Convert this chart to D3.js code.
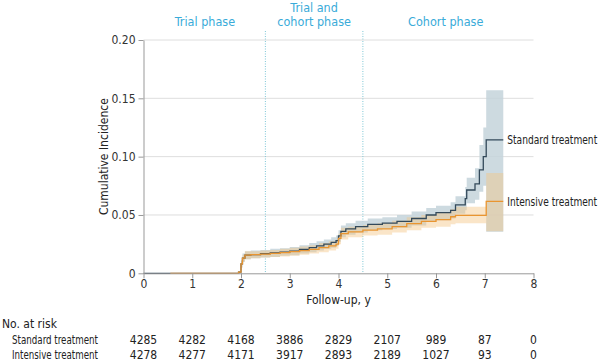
<!DOCTYPE html>
<html><head><meta charset="utf-8">
<script src="https://cdn.jsdelivr.net/npm/d3@7"></script>
<style>
body{margin:0;background:#fff;}
text{font-family:"DejaVu Sans Condensed","Liberation Sans Narrow",sans-serif;}
</style></head>
<body><svg id="c" width="604" height="364"></svg>
<script>
// ---- data ----
const seriesNames = ["Standard treatment", "Intensive treatment"];
// [time, estimate, lower CI, upper CI] (step after)
const standardCurve = [
 [0,0,0,0],[1.95,0.001,0,0.002],[2.0,0.008,0.005,0.011],[2.03,0.013,0.010,0.017],
 [2.08,0.0155,0.012,0.019],[2.2,0.016,0.013,0.0195],[2.4,0.0168,0.0135,0.020],
 [2.6,0.0175,0.014,0.021],[2.8,0.0182,0.015,0.0215],[3.0,0.019,0.0155,0.0225],
 [3.2,0.0205,0.017,0.024],[3.4,0.022,0.018,0.026],[3.55,0.0235,0.0195,0.0275],
 [3.7,0.025,0.021,0.029],[3.85,0.0265,0.022,0.031],[3.95,0.028,0.0235,0.0325],
 [4.0,0.032,0.027,0.037],[4.05,0.036,0.031,0.041],[4.15,0.038,0.033,0.043],
 [4.35,0.040,0.035,0.045],[4.6,0.042,0.037,0.047],[4.9,0.043,0.038,0.048],
 [5.2,0.0445,0.039,0.050],[5.5,0.047,0.041,0.053],[5.8,0.050,0.044,0.056],
 [6.0,0.052,0.0455,0.058],[6.3,0.054,0.047,0.061],[6.4,0.0586,0.051,0.066],
 [6.6,0.064,0.054,0.074],[6.63,0.0714,0.060,0.082],[6.8,0.0766,0.063,0.090],
 [6.89,0.0886,0.070,0.110],[6.97,0.100,0.075,0.125],[7.03,0.1143,0.0357,0.157],
 [7.38,0.1143,0.0357,0.157]
];
const intensiveCurve = [
 [0.55,0,0,0],[1.95,0.001,0,0.002],[2.0,0.008,0.005,0.011],[2.03,0.013,0.010,0.016],
 [2.08,0.0155,0.012,0.019],[2.2,0.016,0.013,0.019],[2.4,0.0165,0.0135,0.0195],
 [2.6,0.017,0.014,0.020],[2.8,0.0178,0.0145,0.021],[3.0,0.0185,0.015,0.022],
 [3.2,0.0195,0.016,0.023],[3.4,0.0205,0.017,0.024],[3.6,0.022,0.018,0.026],
 [3.8,0.0235,0.0195,0.0275],[3.95,0.025,0.021,0.029],[4.0,0.030,0.025,0.034],
 [4.05,0.034,0.029,0.039],[4.2,0.0355,0.031,0.040],[4.5,0.037,0.0325,0.0415],
 [4.8,0.038,0.033,0.043],[5.1,0.040,0.035,0.045],[5.4,0.0425,0.037,0.048],
 [5.7,0.0445,0.039,0.050],[6.0,0.046,0.040,0.052],[6.3,0.0485,0.042,0.055],
 [6.4,0.0497,0.043,0.057],[7.03,0.0617,0.036,0.086],[7.38,0.0617,0.036,0.086]
];
const xTicks = [0,1,2,3,4,5,6,7,8];
const yTicks = [0,0.05,0.10,0.15,0.20];
const yTickLabels = ["0","0.05","0.10","0.15","0.20"];
const phaseBoundaries = [2.5, 4.5];
const phaseLabels = [["Trial phase"],["Trial and","cohort phase"],["Cohort phase"]];
const phaseCenters = [1.26, 3.5, 6.2];
const riskTimes = [0,1,2,3,4,5,6,7,8];
const riskStandard = [4285,4282,4168,3886,2829,2107,989,87,0];
const riskIntensive = [4278,4277,4171,3917,2893,2189,1027,93,0];

// ---- layout ----
const svg = d3.select("#c");
const x = d3.scaleLinear().domain([0,8]).range([143.5,533.5]);
const y = d3.scaleLinear().domain([0,0.20]).range([273.3,40]);
const colStd = "#33495a", colInt = "#e99530";
const FS = 12;

// gridlines
svg.append("g").selectAll("line").data(yTicks.slice(1)).join("line")
  .attr("x1",x(0)).attr("x2",x(8)).attr("y1",d=>y(d)).attr("y2",d=>y(d))
  .attr("stroke","#dedede").attr("stroke-width",1);

// phase boundaries
svg.append("g").selectAll("line").data(phaseBoundaries).join("line")
  .attr("x1",d=>x(d)).attr("x2",d=>x(d)).attr("y1",31).attr("y2",y(0))
  .attr("stroke","#7fc7d6").attr("stroke-width",1).attr("stroke-dasharray","1,1.5");

// phase labels
phaseLabels.forEach((lines,i)=>{
  const t = svg.append("text").attr("x",x(phaseCenters[i])).attr("text-anchor","middle")
    .attr("fill","#3aabd9").attr("font-size",12.5);
  lines.forEach((l,j)=>{
    t.append("tspan").attr("x",x(phaseCenters[i]))
      .attr("y", 26 - (lines.length-1-j)*14.5).text(l);
  });
});

// bands
const area = d3.area().curve(d3.curveStepAfter)
  .x(d=>x(d[0])).y0(d=>y(d[2])).y1(d=>y(d[3]));
const line = d3.line().curve(d3.curveStepAfter).x(d=>x(d[0])).y(d=>y(d[1]));
svg.append("path").datum(standardCurve).attr("d",area)
  .attr("fill","#c4d3db").attr("fill-opacity",0.85);
svg.append("path").datum(intensiveCurve).attr("d",area)
  .attr("fill","#f3c586").attr("fill-opacity",0.45);
svg.append("path").datum(standardCurve).attr("d",line)
  .attr("fill","none").attr("stroke",colStd).attr("stroke-width",1.3);
svg.append("path").datum(intensiveCurve).attr("d",line)
  .attr("fill","none").attr("stroke",colInt).attr("stroke-width",1.3);

// helper: condensed text fitted to a width via horizontal scale
function fitText(px, py, str, width){
  const g = svg.append("g");
  const t = g.append("text").attr("font-size",FS).attr("fill","#222").attr("dy","0.35em").text(str);
  const w = t.node().getComputedTextLength();
  const s = Math.min(1, width / w);
  g.attr("transform",`translate(${px},${py}) scale(${s},1)`);
  return g;
}

// series labels
const lastStd = standardCurve[standardCurve.length-1];
const lastInt = intensiveCurve[intensiveCurve.length-1];
fitText(x(lastStd[0])+4, y(lastStd[1]), seriesNames[0], 90);
fitText(x(lastInt[0])+4, y(lastInt[1]), seriesNames[1], 90);

// axes
const xAxis = svg.append("g").attr("transform",`translate(0,${y(0)})`)
  .call(d3.axisBottom(x).tickValues(xTicks).tickFormat(d3.format("d")).tickSize(5).tickSizeOuter(0));
const yAxis = svg.append("g").attr("transform",`translate(${x(0)},0)`)
  .call(d3.axisLeft(y).tickValues(yTicks).tickFormat((d,i)=>yTickLabels[i]).tickSize(5).tickSizeOuter(0));
[xAxis,yAxis].forEach(a=>{
  a.select(".domain").attr("stroke","#999");
  a.selectAll(".tick line").attr("stroke","#999");
  a.selectAll(".tick text").attr("fill","#333").attr("font-size",FS)
   .style("font-family",'"DejaVu Sans Condensed",sans-serif');
});
xAxis.selectAll(".tick text").attr("y",6).attr("dy","0.75em");

// axis titles
svg.append("text").attr("x",x(4)).attr("y",304).attr("text-anchor","middle")
  .attr("font-size",FS).attr("fill","#222").text("Follow-up, y");
svg.append("text").attr("transform",`translate(108,${(y(0)+y(0.2))/2}) rotate(-90)`)
  .attr("text-anchor","middle").attr("font-size",FS).attr("fill","#222").text("Cumulative Incidence");

// risk table
svg.append("text").attr("x",2).attr("y",328).attr("font-size",FS).attr("fill","#222").text("No. at risk");
[[seriesNames[0],riskStandard,344],[seriesNames[1],riskIntensive,359]].forEach(([name,vals,yy])=>{
  const g = fitText(12, yy, name, 86);
  g.select("text").attr("dy",null);
  svg.append("g").selectAll("text").data(vals).join("text")
    .attr("x",(d,i)=>x(riskTimes[i])).attr("y",yy).attr("text-anchor","middle")
    .attr("font-size",FS).attr("fill","#222").text(d=>d);
});
</script></body></html>
